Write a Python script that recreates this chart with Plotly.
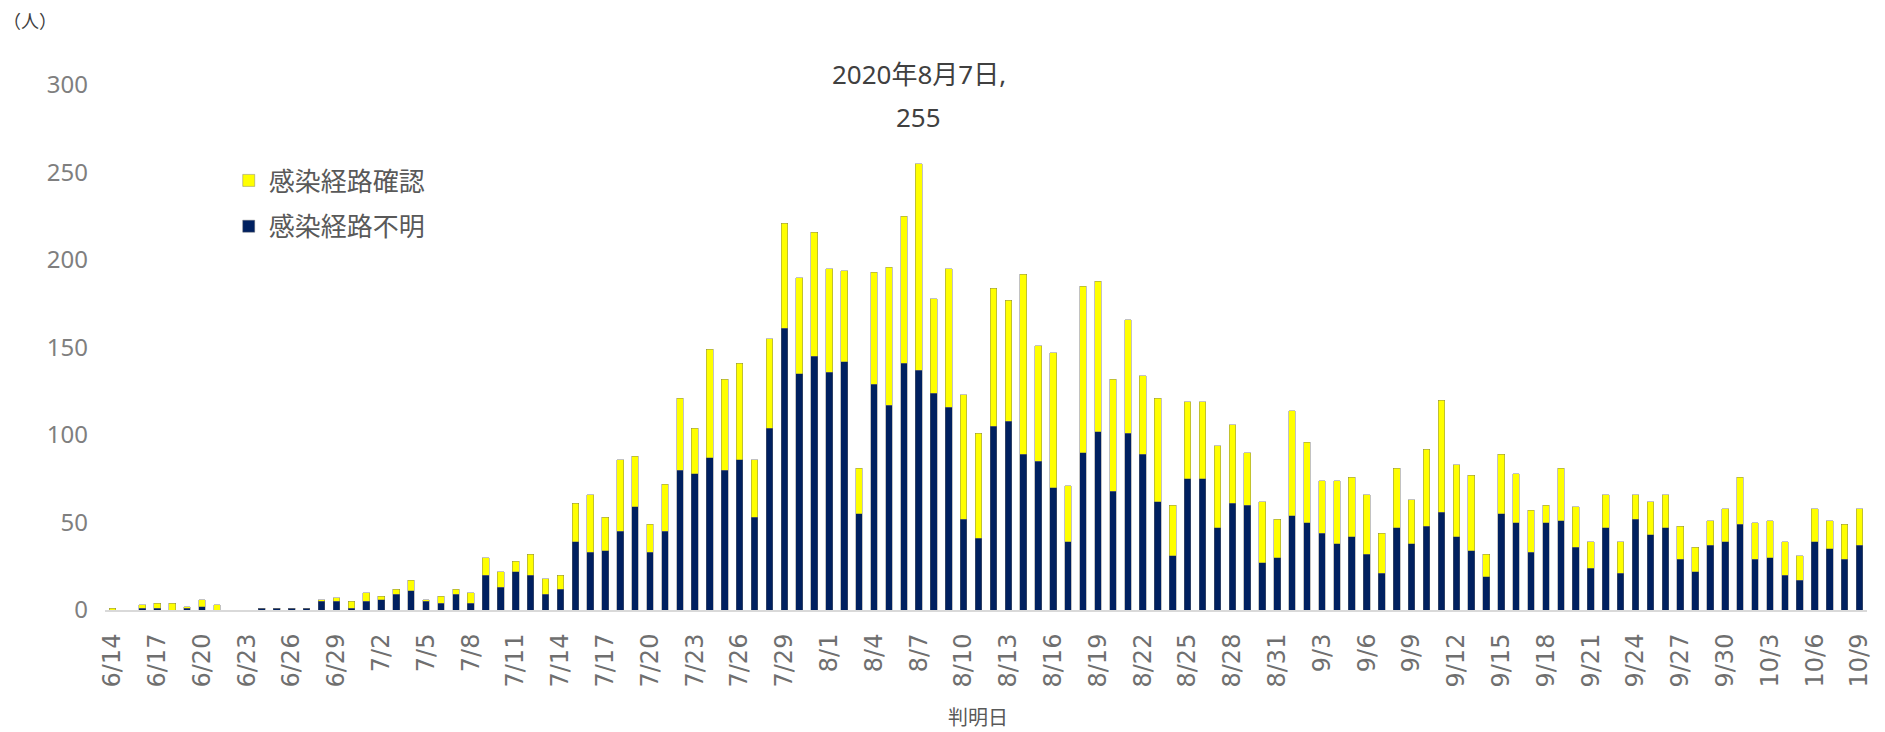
import pandas as pd
import plotly.graph_objects as go

# Categories: report dates 2020-06-14 .. 2020-10-09
dates = [f"{d.month}/{d.day}" for d in pd.date_range("2020-06-14", "2020-10-09", freq="D")]

# 感染経路不明 (unknown route) - navy, bottom of stack
unknown = [
    0, 0, 1, 1, 0, 1, 2, 0, 0, 0,
    1, 1, 1, 1, 5, 5, 1, 5, 6, 9,
    11, 5, 4, 9, 4, 20, 13, 22, 20, 9,
    12, 39, 33, 34, 45, 59, 33, 45, 80, 78,
    87, 80, 86, 53, 104, 161, 135, 145, 136, 142,
    55, 129, 117, 141, 137, 124, 116, 52, 41, 105,
    108, 89, 85, 70, 39, 90, 102, 68, 101, 89,
    62, 31, 75, 75, 47, 61, 60, 27, 30, 54,
    50, 44, 38, 42, 32, 21, 47, 38, 48, 56,
    42, 34, 19, 55, 50, 33, 50, 51, 36, 24,
    47, 21, 52, 43, 47, 29, 22, 37, 39, 49,
    29, 30, 20, 17, 39, 35, 29, 37,
]

# 感染経路確認 (known route) - yellow, top of stack
known = [
    1, 0, 2, 3, 4, 1, 4, 3, 0, 0,
    0, 0, 0, 0, 1, 2, 4, 5, 2, 3,
    6, 1, 4, 3, 6, 10, 9, 6, 12, 9,
    8, 22, 33, 19, 41, 29, 16, 27, 41, 26,
    62, 52, 55, 33, 51, 60, 55, 71, 59, 52,
    26, 64, 79, 84, 118, 54, 79, 71, 60, 79,
    69, 103, 66, 77, 32, 95, 86, 64, 65, 45,
    59, 29, 44, 44, 47, 45, 30, 35, 22, 60,
    46, 30, 36, 34, 34, 23, 34, 25, 44, 64,
    41, 43, 13, 34, 28, 24, 10, 30, 23, 15,
    19, 18, 14, 19, 19, 19, 14, 14, 19, 27,
    21, 21, 19, 14, 19, 16, 20, 21,
]

tick_labels = dates[::3]
y_ticks = [0, 50, 100, 150, 200, 250, 300]

peak_date = "8/7"
peak_total = unknown[dates.index(peak_date)] + known[dates.index(peak_date)]

NAVY = "#002060"
YELLOW = "#FFFF00"
OUTLINE = "rgba(110,110,110,0.7)"
CJK = "Noto Sans CJK JP"

fig = go.Figure()
fig.add_trace(go.Bar(
    x=dates, y=unknown, name="感染経路不明",
    marker=dict(color=NAVY, line=dict(color=OUTLINE, width=0.6)),
    legendgroup="b", legendrank=2,
))
fig.add_trace(go.Bar(
    x=dates, y=known, name="感染経路確認",
    marker=dict(color=YELLOW, line=dict(color=OUTLINE, width=0.6)),
    legendgroup="a", legendrank=1,
))

fig.update_layout(
    width=1885, height=732,
    barmode="stack", bargap=0.55,
    plot_bgcolor="white", paper_bgcolor="white",
    margin=dict(l=105, r=13, t=85, b=122),
    showlegend=True,
    legend=dict(
        x=(229 - 105) / 1766, y=(610 - 157) / 525,
        xanchor="left", yanchor="top",
        traceorder="grouped", tracegroupgap=9,
        font=dict(family=CJK, size=26, color="#595959"),
        bgcolor="rgba(0,0,0,0)", itemwidth=30,
    ),
    xaxis=dict(
        type="category", tickmode="array",
        tickvals=tick_labels, ticktext=tick_labels,
        tickangle=-90, ticks="", ticklabelstandoff=12,
        tickfont=dict(family="DejaVu Sans", size=24, color="#6f6f6f"),
        showgrid=False, zeroline=False,
        showline=True, linecolor="#d9d9d9", linewidth=2,
        range=[-0.5, len(dates) - 0.5],
    ),
    yaxis=dict(
        range=[0, 300], tickvals=y_ticks,
        tickfont=dict(family="Noto Sans", size=24, color="#7f7f7f"),
        ticks="", ticklabelstandoff=16,
        showgrid=False, zeroline=False, showline=False,
    ),
    font=dict(family=CJK),
)

# Peak data label
fig.add_annotation(
    x=peak_date, y=peak_total, xref="x", yref="y",
    text="2020年8月7日,", showarrow=False, yshift=90,
    font=dict(family="Noto Sans, " + CJK, size=26, color="#404040"),
)
fig.add_annotation(
    x=peak_date, y=peak_total, xref="x", yref="y",
    text=str(peak_total), showarrow=False, yshift=47,
    font=dict(family="Noto Sans, " + CJK, size=26, color="#404040"),
)

# Unit label and axis title
fig.add_annotation(
    x=(1 - 105) / 1766, y=(610 - 20) / 525, xref="paper", yref="paper",
    text="（人）", showarrow=False, xanchor="left", yanchor="middle",
    font=dict(family=CJK, size=18, color="#404040"),
)
fig.add_annotation(
    x=(980 - 105) / 1766, y=(610 - 716) / 525, xref="paper", yref="paper",
    text="判明日", showarrow=False, xanchor="center", yanchor="middle",
    font=dict(family=CJK, size=20, color="#595959"),
)

fig.write_html("out.html", config={"displayModeBar": False},
               post_script="document.body.style.margin='0';")
